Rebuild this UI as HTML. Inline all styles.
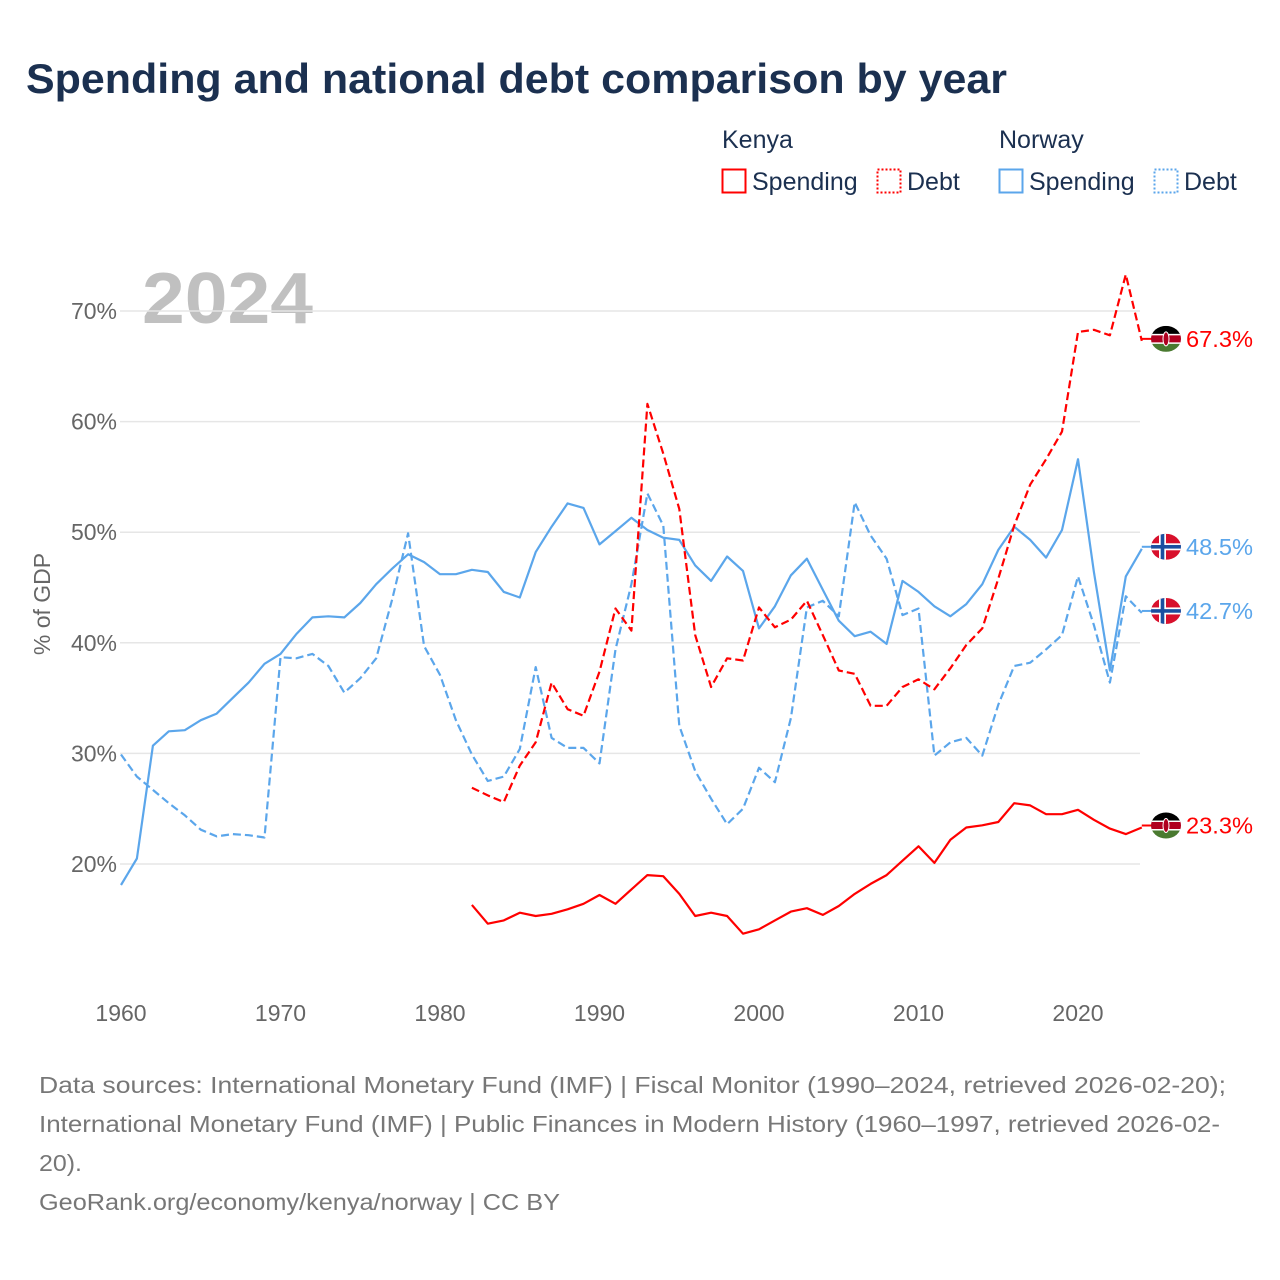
<!DOCTYPE html>
<html><head><meta charset="utf-8"><style>
html,body{margin:0;padding:0;background:#fff;width:1280px;height:1280px;overflow:hidden;font-family:"Liberation Sans",sans-serif;}
svg{display:block}
</style></head><body>
<svg id="chart" width="1280" height="1280" viewBox="0 0 1280 1280">
<text x="26" y="93" font-size="42" font-weight="bold" fill="#1b3050" textLength="981" lengthAdjust="spacingAndGlyphs">Spending and national debt comparison by year</text>
<g font-size="25" fill="#1b3050">
<text x="722" y="148">Kenya</text>
<text x="999" y="148">Norway</text>
<g><rect x="722.5" y="169.5" width="23" height="23" fill="none" stroke="#ff0000" stroke-width="2"/><text x="752" y="190">Spending</text></g>
<g><rect x="877.5" y="169.5" width="23" height="23" fill="none" stroke="#ff0000" stroke-width="2" stroke-dasharray="2,2"/><text x="907" y="190">Debt</text></g>
<g><rect x="999.5" y="169.5" width="23" height="23" fill="none" stroke="#5ba6eb" stroke-width="2"/><text x="1029" y="190">Spending</text></g>
<g><rect x="1154.5" y="169.5" width="23" height="23" fill="none" stroke="#5ba6eb" stroke-width="2" stroke-dasharray="2,2"/><text x="1184" y="190">Debt</text></g>
</g>
<text x="142" y="323" font-size="72" font-weight="bold" fill="#c0c0c0" textLength="171" lengthAdjust="spacingAndGlyphs">2024</text>
<g id="grid"></g>
<g id="yticks" font-size="23" fill="#666"></g>
<g id="xticks" font-size="23" fill="#666"></g>
<text transform="translate(50,604) rotate(-90)" text-anchor="middle" font-size="23" fill="#666">% of GDP</text>
<g id="series"></g>
<g id="labels"></g>
<g font-size="23" fill="#777">
<text x="39" y="1093" textLength="1187" lengthAdjust="spacingAndGlyphs">Data sources: International Monetary Fund (IMF) | Fiscal Monitor (1990–2024, retrieved 2026-02-20);</text>
<text x="39" y="1132" textLength="1181" lengthAdjust="spacingAndGlyphs">International Monetary Fund (IMF) | Public Finances in Modern History (1960–1997, retrieved 2026-02-</text>
<text x="39" y="1171" textLength="43" lengthAdjust="spacingAndGlyphs">20).</text>
<text x="39" y="1210" textLength="521" lengthAdjust="spacingAndGlyphs">GeoRank.org/economy/kenya/norway | CC BY</text>
</g>
</svg>
<script>
const years1960 = [];
for (let y = 1960; y <= 2024; y++) years1960.push(y);
const norwaySpending = [18.1,20.5,30.7,32.0,32.1,33.0,33.6,35.0,36.4,38.1,39.0,40.8,42.3,42.4,42.3,43.6,45.3,46.7,48.0,47.3,46.2,46.2,46.6,46.4,44.6,44.1,48.2,50.5,52.6,52.2,48.9,50.1,51.3,50.2,49.5,49.3,47.0,45.6,47.8,46.5,41.3,43.3,46.1,47.6,44.8,42.0,40.6,41.0,39.9,45.6,44.6,43.3,42.4,43.5,45.3,48.4,50.5,49.3,47.7,50.2,56.6,46.4,37.5,46.0,48.5];
const norwayDebt = [29.9,27.9,26.7,25.5,24.4,23.1,22.5,22.7,22.6,22.4,38.7,38.6,39.0,37.9,35.5,36.8,38.6,43.9,49.9,39.7,37.1,33.0,29.9,27.5,27.9,30.4,37.8,31.4,30.5,30.5,29.1,39.4,45.3,53.5,50.6,32.5,28.4,25.9,23.6,25.0,28.7,27.4,33.2,43.2,43.8,42.4,52.7,49.7,47.6,42.5,43.1,29.8,31.0,31.4,29.8,34.4,37.9,38.2,39.4,40.7,46.0,41.6,36.4,44.2,42.7];
const years1982 = [];
for (let y = 1982; y <= 2024; y++) years1982.push(y);
const kenyaSpending = [16.3,14.6,14.9,15.6,15.3,15.5,15.9,16.4,17.2,16.4,17.7,19.0,18.9,17.3,15.3,15.6,15.3,13.7,14.1,14.9,15.7,16.0,15.4,16.2,17.3,18.2,19.0,20.3,21.6,20.1,22.2,23.3,23.5,23.8,25.5,25.3,24.5,24.5,24.9,24.0,23.2,22.7,23.3];
const kenyaDebt = [26.9,26.2,25.6,28.9,31.0,36.4,34.0,33.4,37.4,43.1,41.1,61.6,57.1,52.1,40.7,36.0,38.6,38.4,43.2,41.4,42.1,43.8,40.7,37.5,37.2,34.3,34.3,36.0,36.7,35.8,37.7,39.8,41.3,45.8,50.6,54.3,56.6,59.1,68.1,68.3,67.8,73.3,67.3];
const yTickValues = [20,30,40,50,60,70];
const xTickValues = [1960,1970,1980,1990,2000,2010,2020];

const NS = 'http://www.w3.org/2000/svg';
function xScale(yr){ return 121 + (yr - 1960) * 15.95; }
function yScale(v){ return 864 - (v - 20) * 11.06; }
function mk(tag, attrs, parent){ const e = document.createElementNS(NS, tag); for (const k in attrs) e.setAttribute(k, attrs[k]); parent.appendChild(e); return e; }

const grid = document.getElementById('grid'), yt = document.getElementById('yticks'), xt = document.getElementById('xticks');
yTickValues.forEach(v => {
  const l = mk('line', {x1:120, x2:1140, y1:yScale(v), y2:yScale(v), stroke:'#e6e6e6', 'stroke-width':1.5}, grid);
  
  
  const t = mk('text', {x:117, y:yScale(v)+8, 'text-anchor':'end'}, yt);
  t.textContent = v + '%';
  
  
});
xTickValues.forEach(v => {
  const t = mk('text', {x:xScale(v), y:1021, 'text-anchor':'middle'}, xt);
  t.textContent = v;
  
  
});

const series = document.getElementById('series');
function drawLine(xs, vals, color, dashed, name){
  const d = vals.map((v,i)=>(i?'L':'M') + xScale(xs[i]).toFixed(1) + ',' + yScale(v).toFixed(1)).join('');
  const p = mk('path', {d:d, fill:'none', stroke:color, 'stroke-width':2.2, 'stroke-linejoin':'round'}, series);
  if (dashed) p.setAttribute('stroke-dasharray', '8,4');
  
  
}
const RED = '#ff0000', BLUE = '#5ba6eb';
drawLine(years1960, norwayDebt, BLUE, true, 'norway-debt-line');
drawLine(years1960, norwaySpending, BLUE, false, 'norway-spending-line');
drawLine(years1982, kenyaDebt, RED, true, 'kenya-debt-line');
drawLine(years1982, kenyaSpending, RED, false, 'kenya-spending-line');

const labels = document.getElementById('labels');
function endLabel(val, color, country, name){
  const cy = yScale(val) - 2, cx = 1166;
  const g = mk('g', {}, labels);
  
  
  mk('line', {x1:xScale(2024), x2:cx-14, y1:cy, y2:cy, stroke:color, 'stroke-width':2}, g);
  const cpId = 'cp-' + name;
  const cp = mk('clipPath', {id:cpId}, g);
  mk('ellipse', {cx:cx, cy:cy, rx:15, ry:13}, cp);
  const f = mk('g', {'clip-path':'url(#' + cpId + ')'}, g);
  if (country === 'kenya') {
    mk('rect', {x:cx-15, y:cy-13, width:30, height:9, fill:'#000'}, f);
    mk('rect', {x:cx-15, y:cy-4, width:30, height:8, fill:'#b00020'}, f);
    mk('rect', {x:cx-15, y:cy-5, width:30, height:1.5, fill:'#fff'}, f);
    mk('rect', {x:cx-15, y:cy+3.5, width:30, height:1.5, fill:'#fff'}, f);
    mk('rect', {x:cx-15, y:cy+5, width:30, height:8, fill:'#4a7a30'}, f);
    mk('ellipse', {cx:cx, cy:cy, rx:3, ry:7, fill:'#b00020', stroke:'#fff', 'stroke-width':1}, f);
  } else {
    mk('rect', {x:cx-15, y:cy-13, width:30, height:26, fill:'#d8102c'}, f);
    mk('rect', {x:cx-15, y:cy-3.5, width:30, height:7, fill:'#fff'}, f);
    mk('rect', {x:cx-7, y:cy-13, width:7, height:26, fill:'#fff'}, f);
    mk('rect', {x:cx-15, y:cy-1.8, width:30, height:3.6, fill:'#1b4fa0'}, f);
    mk('rect', {x:cx-5.3, y:cy-13, width:3.6, height:26, fill:'#1b4fa0'}, f);
  }
  const t = mk('text', {x:1186, y:cy+8, 'font-size':23, fill:color, textLength:67, lengthAdjust:'spacingAndGlyphs'}, g);
  t.textContent = val.toFixed(1) + '%';
}
endLabel(kenyaDebt[kenyaDebt.length-1], RED, 'kenya', 'kenya-debt-label');
endLabel(norwaySpending[norwaySpending.length-1], BLUE, 'norway', 'norway-spending-label');
endLabel(norwayDebt[norwayDebt.length-1], BLUE, 'norway', 'norway-debt-label');
endLabel(kenyaSpending[kenyaSpending.length-1], RED, 'kenya', 'kenya-spending-label');
</script>
</body></html>
